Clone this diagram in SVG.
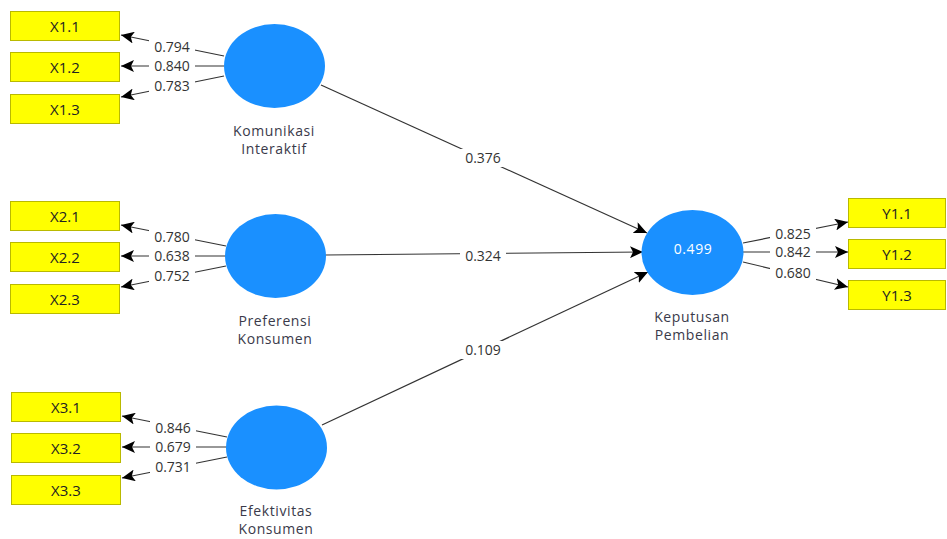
<svg xmlns="http://www.w3.org/2000/svg" width="947" height="539" viewBox="0 0 947 539">
<defs>
<marker id="ah" markerUnits="userSpaceOnUse" markerWidth="14" markerHeight="12" refX="13" refY="6" orient="auto">
<path d="M0,0 L13,6 L0,12 L3,6 Z" fill="#000"/>
</marker>
<style>
.box{fill:#ffff00;stroke:#b9b900;stroke-width:1}
.bt{font-family:"Open Sans","DejaVu Sans",sans-serif;font-size:15px;fill:#222;text-anchor:middle;dominant-baseline:central}
.lv{fill:#1a90ff}
.lt{font-family:"Open Sans","DejaVu Sans",sans-serif;font-size:14px;fill:#333;text-anchor:middle}
.cl{stroke:#333;stroke-width:1.2;fill:none;marker-end:url(#ah)}
.wl{fill:#fff}
.nt{font-family:"Open Sans","DejaVu Sans",sans-serif;font-size:14px;letter-spacing:0.6px;fill:#3a3a4a;text-anchor:middle;dominant-baseline:central}
</style>
</defs>
<rect width="947" height="539" fill="#fff"/>
<g id="connectors">
<line class="cl" x1="224" y1="56" x2="121" y2="35"/>
<line class="cl" x1="224" y1="66" x2="121" y2="66"/>
<line class="cl" x1="224" y1="76" x2="121" y2="97"/>
<line class="cl" x1="226" y1="246" x2="121" y2="225"/>
<line class="cl" x1="226" y1="256" x2="121" y2="256"/>
<line class="cl" x1="226" y1="266" x2="121" y2="287"/>
<line class="cl" x1="227" y1="437" x2="122" y2="416"/>
<line class="cl" x1="227" y1="447" x2="122" y2="447"/>
<line class="cl" x1="227" y1="457" x2="122" y2="478"/>
<line class="cl" x1="321" y1="85" x2="647" y2="233"/>
<line class="cl" x1="325" y1="255" x2="643" y2="252"/>
<line class="cl" x1="322" y1="425" x2="648" y2="272"/>
<line class="cl" x1="743" y1="243" x2="848" y2="222"/>
<line class="cl" x1="743" y1="252" x2="848" y2="252"/>
<line class="cl" x1="743" y1="262" x2="848" y2="287"/>
<g id="labels">
<rect class="wl" x="149" y="39" width="46" height="15"/><text class="lt" x="172" y="52">0.794</text>
<rect class="wl" x="149" y="59" width="46" height="15"/><text class="lt" x="172" y="71">0.840</text>
<rect class="wl" x="149" y="79" width="46" height="15"/><text class="lt" x="172" y="91">0.783</text>
<rect class="wl" x="149" y="229" width="46" height="15"/><text class="lt" x="172" y="242">0.780</text>
<rect class="wl" x="149" y="249" width="46" height="15"/><text class="lt" x="172" y="261">0.638</text>
<rect class="wl" x="149" y="269" width="46" height="15"/><text class="lt" x="172" y="281">0.752</text>
<rect class="wl" x="150" y="420" width="46" height="15"/><text class="lt" x="173" y="433">0.846</text>
<rect class="wl" x="150" y="440" width="46" height="15"/><text class="lt" x="173" y="452">0.679</text>
<rect class="wl" x="150" y="460" width="46" height="15"/><text class="lt" x="173" y="472">0.731</text>
<rect class="wl" x="460" y="149" width="46" height="18"/><text class="lt" x="483" y="163">0.376</text>
<rect class="wl" x="460" y="248" width="46" height="15"/><text class="lt" x="483" y="261">0.324</text>
<rect class="wl" x="460" y="341" width="46" height="18"/><text class="lt" x="483" y="355">0.109</text>
<rect class="wl" x="770" y="227" width="46" height="15"/><text class="lt" x="793" y="239">0.825</text>
<rect class="wl" x="770" y="245" width="46" height="15"/><text class="lt" x="793" y="257">0.842</text>
<rect class="wl" x="770" y="265" width="46" height="15"/><text class="lt" x="793" y="278">0.680</text>
</g>
</g>
<g id="X1.1"><rect class="box" x="10.5" y="11.5" width="109" height="29"/><text class="bt" x="65" y="26">X1.1</text></g>
<g id="X1.2"><rect class="box" x="10.5" y="52.5" width="109" height="29"/><text class="bt" x="65" y="67">X1.2</text></g>
<g id="X1.3"><rect class="box" x="10.5" y="94.5" width="109" height="29"/><text class="bt" x="65" y="109">X1.3</text></g>
<g id="X2.1"><rect class="box" x="10.5" y="201.5" width="109" height="29"/><text class="bt" x="65" y="216">X2.1</text></g>
<g id="X2.2"><rect class="box" x="10.5" y="242.5" width="109" height="29"/><text class="bt" x="65" y="257">X2.2</text></g>
<g id="X2.3"><rect class="box" x="10.5" y="284.5" width="109" height="29"/><text class="bt" x="65" y="299">X2.3</text></g>
<g id="X3.1"><rect class="box" x="11.5" y="392.5" width="109" height="29"/><text class="bt" x="66" y="407">X3.1</text></g>
<g id="X3.2"><rect class="box" x="11.5" y="433.5" width="109" height="29"/><text class="bt" x="66" y="448">X3.2</text></g>
<g id="X3.3"><rect class="box" x="11.5" y="475.5" width="109" height="29"/><text class="bt" x="66" y="490">X3.3</text></g>
<g id="Y1.1"><rect class="box" x="848.5" y="198.5" width="97" height="29"/><text class="bt" x="897" y="213">Y1.1</text></g>
<g id="Y1.2"><rect class="box" x="848.5" y="239.5" width="97" height="29"/><text class="bt" x="897" y="254">Y1.2</text></g>
<g id="Y1.3"><rect class="box" x="848.5" y="280.5" width="97" height="29"/><text class="bt" x="897" y="295">Y1.3</text></g>
<g id="KomunikasiInteraktif"><ellipse class="lv" cx="274.5" cy="66" rx="50.5" ry="42"/><text class="nt" x="274" y="130">Komunikasi</text><text class="nt" x="274" y="148">Interaktif</text></g>
<g id="PreferensiKonsumen"><ellipse class="lv" cx="275.5" cy="256" rx="50.5" ry="42"/><text class="nt" x="275" y="320">Preferensi</text><text class="nt" x="275" y="338">Konsumen</text></g>
<g id="EfektivitasKonsumen"><ellipse class="lv" cx="276.5" cy="447.5" rx="50.5" ry="42"/><text class="nt" x="276" y="510">Efektivitas</text><text class="nt" x="276" y="528">Konsumen</text></g>
<g id="KeputusanPembelian"><ellipse class="lv" cx="692.5" cy="252.5" rx="51" ry="42.5"/><text class="nt" x="693" y="248" style="fill:#fff">0.499</text><text class="nt" x="692" y="316">Keputusan</text><text class="nt" x="692" y="334">Pembelian</text></g>
</svg>
